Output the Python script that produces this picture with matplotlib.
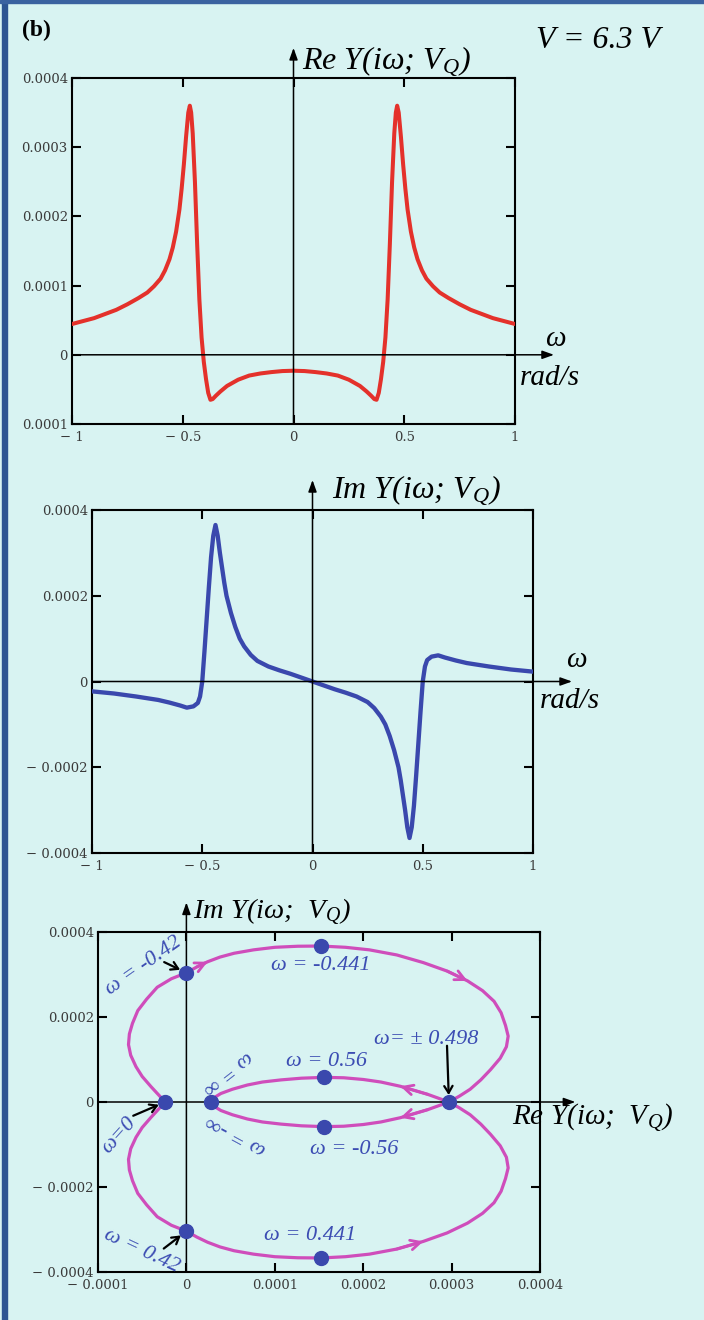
import matplotlib
matplotlib.use('Agg')
import matplotlib.pyplot as plt
import numpy as np
from matplotlib.patches import Rectangle

plt.rcParams['mathtext.fontset'] = 'custom'
plt.rcParams['mathtext.it'] = 'Liberation Serif:italic'
plt.rcParams['mathtext.rm'] = 'Liberation Serif'

# ---------------- data ----------------
# Re Y(iw) for w >= 0 (curve is even in w)
omega_re = [0.0, 0.05, 0.1, 0.15, 0.2, 0.25, 0.3, 0.33, 0.35, 0.365, 0.375, 0.385,
            0.395, 0.405, 0.415, 0.425, 0.435, 0.445, 0.455, 0.462, 0.468, 0.475,
            0.485, 0.495, 0.505, 0.515, 0.53, 0.545, 0.56, 0.58, 0.6, 0.63, 0.66,
            0.7, 0.75, 0.8, 0.9, 1.0]
re_vals = [-2.3e-5, -2.35e-5, -2.5e-5, -2.7e-5, -3.0e-5, -3.6e-5, -4.5e-5, -5.3e-5,
           -5.9e-5, -6.4e-5, -6.5e-5, -5.5e-5, -3.5e-5, -1.0e-5, 2.5e-5, 8.0e-5,
           1.6e-4, 2.5e-4, 3.2e-4, 3.5e-4, 3.6e-4, 3.5e-4, 3.15e-4, 2.75e-4, 2.4e-4,
           2.1e-4, 1.78e-4, 1.55e-4, 1.38e-4, 1.22e-4, 1.1e-4, 9.9e-5, 9.0e-5,
           8.2e-5, 7.3e-5, 6.5e-5, 5.3e-5, 4.45e-5]

# Im Y(iw) for w >= 0 (curve is odd in w)
omega_im = [0.0, 0.05, 0.1, 0.15, 0.2, 0.25, 0.28, 0.31, 0.33, 0.35, 0.37, 0.39,
            0.40, 0.41, 0.42, 0.43, 0.44, 0.45, 0.46, 0.47, 0.48, 0.49, 0.5, 0.51,
            0.52, 0.54, 0.57, 0.6, 0.65, 0.7, 0.8, 0.9, 1.0]
im_vals = [0.0, -9e-6, -1.8e-5, -2.6e-5, -3.5e-5, -4.8e-5, -6.2e-5, -8.2e-5, -1.0e-4,
           -1.27e-4, -1.6e-4, -2.0e-4, -2.3e-4, -2.65e-4, -3.0e-4, -3.4e-4, -3.65e-4,
           -3.4e-4, -2.9e-4, -2.2e-4, -1.45e-4, -7.0e-5, 0.0, 3.5e-5, 5.0e-5, 5.8e-5,
           6.1e-5, 5.6e-5, 4.9e-5, 4.3e-5, 3.5e-5, 2.8e-5, 2.3e-5]

# Nyquist branch for w from 0 to +inf (the w<0 branch is its mirror image)
ny_re = [-2.4e-5, -3.2e-5, -4.0e-5, -5.0e-5, -5.7e-5, -6.3e-5, -6.55e-5, -6.45e-5,
         -6.1e-5, -5.5e-5, -4.5e-5, -3.3e-5, -1.7e-5, 0.0, 1.2e-5, 2.4e-5, 3.8e-5,
         5.4e-5, 7.6e-5, 1.0e-4, 1.26e-4, 1.52e-4, 1.8e-4, 2.07e-4, 2.38e-4, 2.68e-4,
         2.95e-4, 3.18e-4, 3.35e-4, 3.48e-4, 3.56e-4, 3.61e-4, 3.64e-4, 3.62e-4,
         3.55e-4, 3.44e-4, 3.33e-4, 3.21e-4, 3.09e-4, 2.97e-4, 2.85e-4, 2.73e-4,
         2.42e-4, 2.2e-4, 2.0e-4, 1.78e-4, 1.56e-4, 1.3e-4, 1.07e-4, 8.6e-5, 6.9e-5,
         5.2e-5, 3.9e-5, 3.2e-5, 2.77e-5]
ny_im = [0.0, -1.8e-5, -3.6e-5, -6.0e-5, -8.3e-5, -1.1e-4, -1.35e-4, -1.6e-4,
         -1.85e-4, -2.15e-4, -2.42e-4, -2.7e-4, -2.9e-4, -3.04e-4, -3.18e-4, -3.3e-4,
         -3.41e-4, -3.5e-4, -3.58e-4, -3.64e-4, -3.665e-4, -3.67e-4, -3.64e-4,
         -3.58e-4, -3.46e-4, -3.28e-4, -3.08e-4, -2.85e-4, -2.62e-4, -2.37e-4,
         -2.1e-4, -1.8e-4, -1.55e-4, -1.3e-4, -1.03e-4, -7.6e-5, -5.2e-5, -3.0e-5,
         -1.4e-5, 0.0, 9e-6, 1.8e-5, 3.7e-5, 4.7e-5, 5.3e-5, 5.7e-5, 5.8e-5, 5.6e-5,
         5.2e-5, 4.7e-5, 4.0e-5, 3.0e-5, 2.0e-5, 1.1e-5, 0.0]

# marked frequencies on the Nyquist plot
mark_re = [0.0, 1.52e-4, 1.56e-4, 1.56e-4, -2.4e-5, 2.77e-5, 2.97e-4, 0.0, 1.52e-4]
mark_im = [3.04e-4, 3.67e-4, 5.8e-5, -5.8e-5, 0.0, 0.0, 0.0, -3.04e-4, -3.67e-4]

# tick labels
x_ticks_w = [-1, -0.5, 0, 0.5, 1]
x_labels_w = ['\u2212 1', '\u2212 0.5', '0', '0.5', '1']
y_ticks_1 = [0.0004, 0.0003, 0.0002, 0.0001, 0.0, -0.0001]
y_labels_1 = ['0.0004', '0.0003', '0.0002', '0.0001', '0', '0.0001']
y_ticks_2 = [0.0004, 0.0002, 0.0, -0.0002, -0.0004]
y_labels_2 = ['0.0004', '0.0002', '0', '\u2212 0.0002', '\u2212 0.0004']
x_ticks_3 = [-0.0001, 0.0, 0.0001, 0.0002, 0.0003, 0.0004]
x_labels_3 = ['\u2212 0.0001', '0', '0.0001', '0.0002', '0.0003', '0.0004']

# ---------------- figure ----------------
W, H = 704, 1320
bg = '#d8f3f2'
red = '#e4312b'
blue = '#3a48ad'
mag = '#cf4dbb'
tblue = '#3c4db3'
serif = 'Liberation Serif'

fig = plt.figure(figsize=(W / 100, H / 100), dpi=100)
fig.patch.set_facecolor(bg)
fig.patches.append(Rectangle((2 / W, 0), 5 / W, 1, transform=fig.transFigure,
                             color='#2d5592', zorder=0))
fig.patches.append(Rectangle((0, 1 - 3 / H), 1, 3 / H, transform=fig.transFigure,
                             color='#3a62a0', zorder=0))


def make_ax(l, t, r, b):
    return fig.add_axes([l / W, 1 - b / H, (r - l) / W, (b - t) / H])


def ftext(x, y, s, **kw):
    return fig.text(x / W, 1 - y / H, s, **kw)


def style(ax, xt, xl, yt, yl):
    ax.set_facecolor('none')
    for s in ax.spines.values():
        s.set_linewidth(1.5)
    ax.set_xticks(xt, labels=xl)
    ax.set_yticks(yt, labels=yl)
    ax.tick_params(direction='in', length=6.5, width=1.5, top=True, right=True,
                   labelcolor='#3a3a3a', labelsize=9.5)
    ax.tick_params(axis='x', pad=5)
    ax.tick_params(axis='y', pad=3)
    for lab in ax.get_xticklabels() + ax.get_yticklabels():
        lab.set_fontfamily('DejaVu Serif')


def axis_arrows(ax, xtip, ytip):
    ap = dict(arrowstyle='-|>,head_length=0.7,head_width=0.25', lw=1.1,
              color='k', shrinkA=0, shrinkB=0)
    ax.annotate('', xy=(0, ytip), xycoords=('data', 'axes fraction'),
                xytext=(0, 0), textcoords=('data', 'axes fraction'),
                arrowprops=ap, annotation_clip=False)
    ax.annotate('', xy=(xtip, 0), xycoords=('axes fraction', 'data'),
                xytext=(0, 0), textcoords=('axes fraction', 'data'),
                arrowprops=ap, annotation_clip=False)


# ---- panel 1: Re Y ----
ax1 = make_ax(72, 78, 515, 424)
w = np.array(omega_re)
r = np.array(re_vals)
ax1.plot(np.concatenate([-w[::-1], w]), np.concatenate([r[::-1], r]),
         color=red, lw=2.9, solid_capstyle='round', solid_joinstyle='round', zorder=3)
ax1.set_xlim(-1, 1)
ax1.set_ylim(-0.0001, 0.0004)
style(ax1, x_ticks_w, x_labels_w, y_ticks_1, y_labels_1)
axis_arrows(ax1, 1.088, 1.087)

# ---- panel 2: Im Y ----
ax2 = make_ax(92, 510, 533, 853)
w2 = np.array(omega_im)
i2 = np.array(im_vals)
ax2.plot(np.concatenate([-w2[::-1], w2]), np.concatenate([-i2[::-1], i2]),
         color=blue, lw=3.1, solid_capstyle='round', solid_joinstyle='round', zorder=3)
ax2.set_xlim(-1, 1)
ax2.set_ylim(-0.0004, 0.0004)
style(ax2, x_ticks_w, x_labels_w, y_ticks_2, y_labels_2)
axis_arrows(ax2, 1.0885, 1.0875)

# ---- panel 3: Nyquist ----
ax3 = make_ax(98, 932, 540, 1272)
nr = np.array(ny_re)
ni = np.array(ny_im)
ax3.plot(nr, ni, color=mag, lw=2.3, zorder=3, solid_joinstyle='round')
ax3.plot(nr, -ni, color=mag, lw=2.3, zorder=3, solid_joinstyle='round')
ax3.plot(mark_re, mark_im, 'o', ms=10, color=blue, zorder=5)
ax3.set_xlim(-0.0001, 0.0004)
ax3.set_ylim(-0.0004, 0.0004)
style(ax3, x_ticks_3, x_labels_3, y_ticks_2, y_labels_2)
axis_arrows(ax3, 1.080, 1.087)

# direction arrows on the curve (drawn between neighbouring curve points)
mp = dict(arrowstyle='->,head_length=0.7,head_width=0.35', lw=2.0, color=mag,
          shrinkA=0, shrinkB=0)
for i0, i1, sgn in [(14, 15, -1), (26, 27, -1), (41, 42, 1), (41, 42, -1), (24, 25, 1)]:
    ax3.annotate('', xy=(nr[i1], sgn * ni[i1]), xytext=(nr[i0], sgn * ni[i0]),
                 arrowprops=mp, zorder=4)

# black pointer arrows
bp = dict(arrowstyle='->,head_length=0.5,head_width=0.3', lw=1.6, color='k',
          shrinkA=0, shrinkB=5)
for k, off in [(0, (-16, 7.7)), (4, (-23, -9.9)), (6, (-1.4, 40.5)), (7, (-16.3, -12.5))]:
    ax3.annotate('', xy=(mark_re[k], mark_im[k]), xytext=off,
                 textcoords='offset points', arrowprops=bp, zorder=6)

# ---------------- texts ----------------
lab_kw = dict(family=serif, style='italic', va='center', ha='left', color='k')
ftext(22, 30, '(b)', family=serif, weight='bold', fontsize=17, va='center')
ftext(536, 41, 'V = 6.3 V', fontsize=23, **lab_kw)
ftext(302, 61, 'Re Y(i\u03c9; V$_Q$)', fontsize=23, **lab_kw)
ftext(545, 339, '\u03c9', fontsize=21, **lab_kw)
ftext(520, 378, 'rad/s', fontsize=21, **lab_kw)
ftext(332, 490, 'Im Y(i\u03c9; V$_Q$)', fontsize=23, **lab_kw)
ftext(566, 660, '\u03c9', fontsize=21, **lab_kw)
ftext(540, 701, 'rad/s', fontsize=21, **lab_kw)
ftext(193, 912, 'Im Y(i\u03c9;  V$_Q$)', fontsize=20.5, **lab_kw)
ftext(512, 1117, 'Re Y(i\u03c9;  V$_Q$)', fontsize=21, **lab_kw)

ann_kw = dict(family=serif, style='italic', color=tblue, fontsize=16,
              ha='center', va='center', rotation_mode='anchor')
ftext(321, 966, '\u03c9 = -0.441', **ann_kw)
ftext(326, 1061, '\u03c9 = 0.56', **ann_kw)
ftext(354, 1150, '\u03c9 = -0.56', **ann_kw)
ftext(426, 1040, '\u03c9= \u00b1 0.498', **ann_kw)
ftext(310, 1236, '\u03c9 = 0.441', **ann_kw)
ftext(144, 966, '\u03c9 = -0.42', rotation=35, **ann_kw)
ftext(142, 1251, '\u03c9 = 0.42', rotation=-25, **ann_kw)
ftext(119, 1135, '\u03c9=0', rotation=48, **ann_kw)
ftext(227, 1072, '\u03c9 = \u221e', rotation=218, **ann_kw)
ftext(236, 1134, '\u03c9 = -\u221e', rotation=151.5, **ann_kw)

fig.savefig('out.png', dpi=100, facecolor=bg)
